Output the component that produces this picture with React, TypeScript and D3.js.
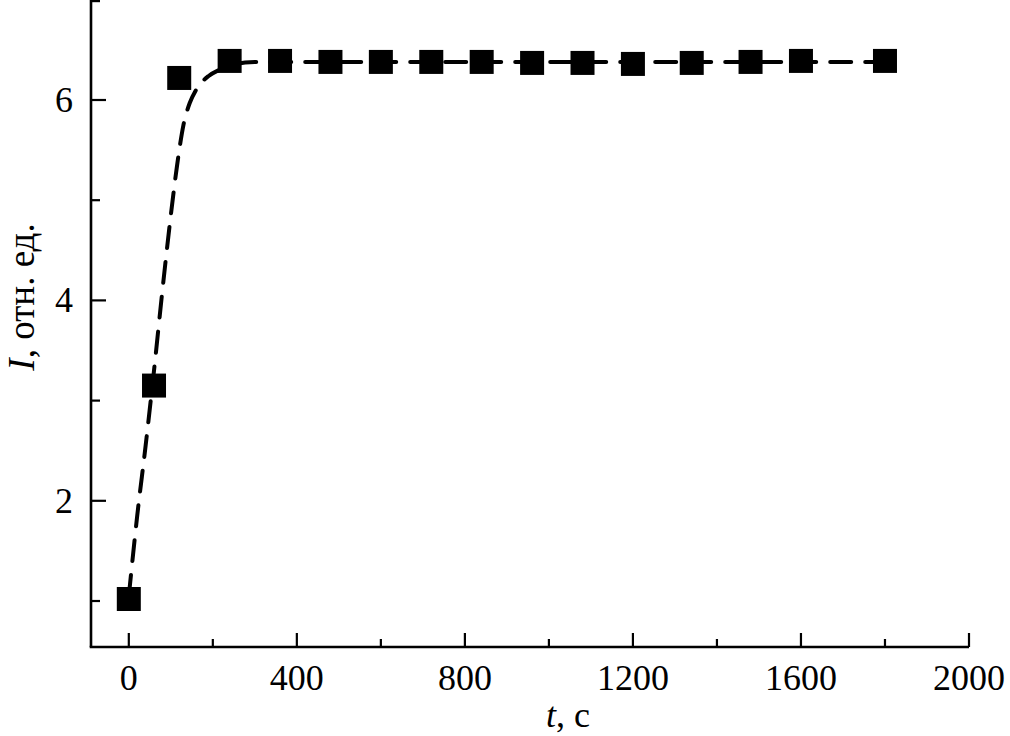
import React from "react";
import * as d3 from "d3";

const timeS = [0, 60, 120, 240, 360, 480, 600, 720, 840, 960, 1080, 1200, 1340, 1480, 1600, 1800];
const intensity = [1.02, 3.15, 6.22, 6.39, 6.39, 6.38, 6.38, 6.38, 6.38, 6.37, 6.37, 6.36, 6.37, 6.38, 6.39, 6.39];

const fitT = [0, 20, 40, 60, 80, 100, 115, 130, 145, 160, 190, 215, 245, 300, 1800];
const fitI = [1.05, 1.85, 2.55, 3.3, 4.1, 4.85, 5.35, 5.75, 5.97, 6.1, 6.24, 6.3, 6.35, 6.38, 6.38];

const xMajor = [0, 400, 800, 1200, 1600, 2000];
const xMinor = [200, 600, 1000, 1400, 1800];
const yMajor = [2, 4, 6];
const yMinor = [1, 3, 5, 7];

export default function App() {
  const W = 1010, H = 736;
  const axX = 91, axY = 647;
  const x = d3.scaleLinear().domain([-90, 2000]).range([axX, 969]);
  const y = d3.scaleLinear().domain([1, 6]).range([601, 100]);
  const line = d3
    .line<number>()
    .x((_, i) => x(fitT[i]))
    .y((d) => y(d))
    .curve(d3.curveMonotoneX);
  const font = "'Liberation Serif', 'Times New Roman', serif";
  const sq = 24;
  return (
    <svg width={W} height={H} style={{ position: "absolute", left: 0, top: 0, background: "#fff" }}>
      <rect width={W} height={H} fill="#fff" />
      {/* fit line */}
      <path
        d={line(fitI) || ""}
        fill="none"
        stroke="#000"
        strokeWidth={4}
        strokeDasharray="21 14"
        strokeLinecap="round"
      />
      {/* points */}
      {timeS.map((t, i) => (
        <rect
          key={i}
          x={x(t) - sq / 2}
          y={y(intensity[i]) - sq / 2}
          width={sq}
          height={sq}
          fill="#000"
        />
      ))}
      {/* axes */}
      <line x1={axX} y1={0} x2={axX} y2={axY} stroke="#000" strokeWidth={2.6} />
      <line x1={axX - 1.3} y1={axY} x2={969} y2={axY} stroke="#000" strokeWidth={2.6} />
      {xMajor.map((v) => (
        <g key={"xm" + v}>
          <line x1={x(v)} x2={x(v)} y1={axY} y2={axY - 14} stroke="#000" strokeWidth={2.2} />
          <text x={x(v)} y={690} textAnchor="middle" fontFamily={font} fontSize={36}>
            {v}
          </text>
        </g>
      ))}
      {xMinor.map((v) => (
        <line key={"xn" + v} x1={x(v)} x2={x(v)} y1={axY} y2={axY - 8} stroke="#000" strokeWidth={2.2} />
      ))}
      {yMajor.map((v) => (
        <g key={"ym" + v}>
          <line x1={axX} x2={axX + 15} y1={y(v)} y2={y(v)} stroke="#000" strokeWidth={2.2} />
          <text x={73} y={y(v) + 12} textAnchor="end" fontFamily={font} fontSize={36}>
            {v}
          </text>
        </g>
      ))}
      {yMinor.map((v) => (
        <line
          key={"yn" + v}
          x1={axX}
          x2={axX + 9}
          y1={Math.max(y(v), 1.1)}
          y2={Math.max(y(v), 1.1)}
          stroke="#000"
          strokeWidth={2.2}
        />
      ))}
      {/* axis titles */}
      <text x={568} y={727} textAnchor="middle" fontFamily={font} fontSize={36}>
        <tspan fontStyle="italic">t</tspan>, с
      </text>
      <text
        transform={`translate(34,297) rotate(-90)`}
        textAnchor="middle"
        fontFamily={font}
        fontSize={37}
      >
        <tspan fontStyle="italic">I</tspan>, отн. ед.
      </text>
    </svg>
  );
}
